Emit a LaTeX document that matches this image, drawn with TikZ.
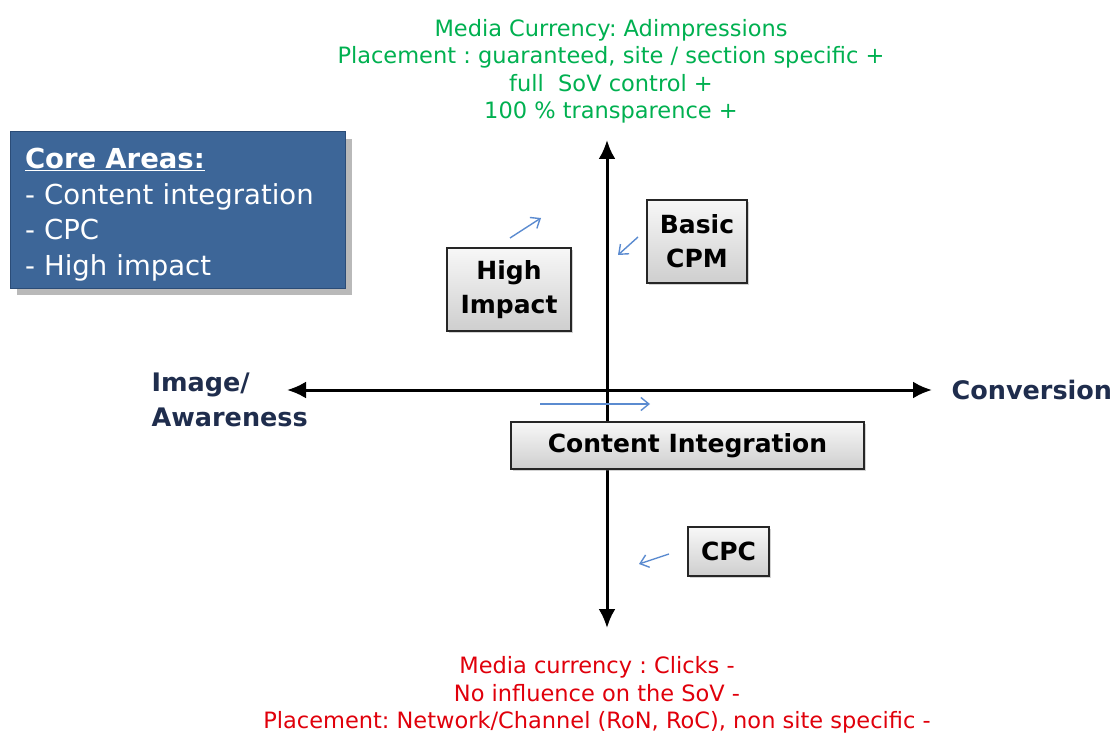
\documentclass[tikz,border=0pt]{standalone}
\usepackage{fontspec}
\setmainfont{DejaVu Sans}
\frenchspacing
\usetikzlibrary{arrows,arrows.meta,positioning,shadows}
\definecolor{coreblue}{HTML}{3D6698}
\definecolor{coreedge}{HTML}{2B4C77}
\definecolor{axisnavy}{HTML}{1F2D4D}
\definecolor{topgreen}{HTML}{00B050}
\definecolor{lowred}{HTML}{E0000B}
\definecolor{hintblue}{HTML}{5B8BD0}

\begin{document}
\begin{tikzpicture}[x=1pt, y=-1pt, >=stealth', semithick,
     quad/.style={draw=black!85, line width=1.3pt, top color=gray!6, bottom color=gray!38,
       drop shadow={shadow xshift=2pt, shadow yshift=-2pt, opacity=.35},
       font=\bfseries\fontsize{25}{34}\selectfont, align=center, inner sep=0pt},
     hint/.style={-{Straight Barb[length=8pt, width=13pt]}, hintblue, line width=1.4pt},
     axis/.style={{Latex[length=19pt, width=17pt]}-{Latex[length=19pt, width=17pt]}, line width=3pt, black}]
    \useasboundingbox (0,0) rectangle (1118,735);
    % core areas box
    \node[draw=coreedge, line width=1pt, fill=coreblue, text=white, minimum width=335pt, minimum height=156pt,
      drop shadow={shadow xshift=7pt, shadow yshift=-7pt, opacity=.55}, align=left, text width=305pt,
      font=\fontsize{27.5}{35.5}\selectfont] (core) at (177.5, 210)
      {\rule{0pt}{30pt}\textbf{\underline{Core Areas:}}\\ - Content integration\\ - CPC\\ - High impact};
    % axes
    \coordinate (up) at (607, 140);
    \coordinate (down) at (607, 628);
    \coordinate (left) at (287, 390);
    \coordinate (right) at (932, 390);
    \draw[axis] (down) -- (up);
    \draw[axis] (left) -- (right);
    % quadrant boxes
    \node[quad, minimum width=124pt, minimum height=83pt] (high) at (509, 289.5) {High\\Impact};
    \node[quad, minimum width=100pt, minimum height=83pt] (cpm) at (697, 241.5) {Basic\\CPM};
    \node[quad, minimum width=353pt, minimum height=47pt] (ci) at (687.5, 445.5) {Content Integration};
    \node[quad, minimum width=81pt, minimum height=49pt] (cpc) at (728.5, 551.5) {CPC};
    % axis labels
    \node[anchor=west, text=axisnavy, align=left, font=\bfseries\fontsize{25.5}{35}\selectfont] (image) at (148, 400) {Image/\\Awareness};
    \node[anchor=west, text=axisnavy, font=\bfseries\fontsize{25.5}{30}\selectfont] (conv) at (948, 390) {Conversion};
    \node[text=topgreen, align=center, font=\fontsize{22.5}{27.5}\selectfont] (top) at (611, 71.5)
      {Media Currency: Adimpressions\\ Placement : guaranteed, site / section specific +\\ full~ SoV control +\\ 100 \% transparence +};
    \node[text=lowred, align=center, font=\fontsize{22.5}{27.5}\selectfont] (low) at (597, 695)
      {Media currency : Clicks -\\ No influence on the SoV -\\ Placement: Network/Channel (RoN, RoC), non site specific -};
    % small hint arrows
    \coordinate (h1) at (510, 238);
    \coordinate (h2) at (541, 218);
    \coordinate (b1) at (638, 237);
    \coordinate (b2) at (618, 255);
    \coordinate (c1) at (540, 404);
    \coordinate (c2) at (650, 404);
    \coordinate (p1) at (669, 554);
    \coordinate (p2) at (639, 564);
    \path (h1) edge[hint] (h2);
    \path (b1) edge[hint] (b2);
    \path (c1) edge[hint] (c2);
    \path (p1) edge[hint] (p2);
   \end{tikzpicture}
\end{document}
